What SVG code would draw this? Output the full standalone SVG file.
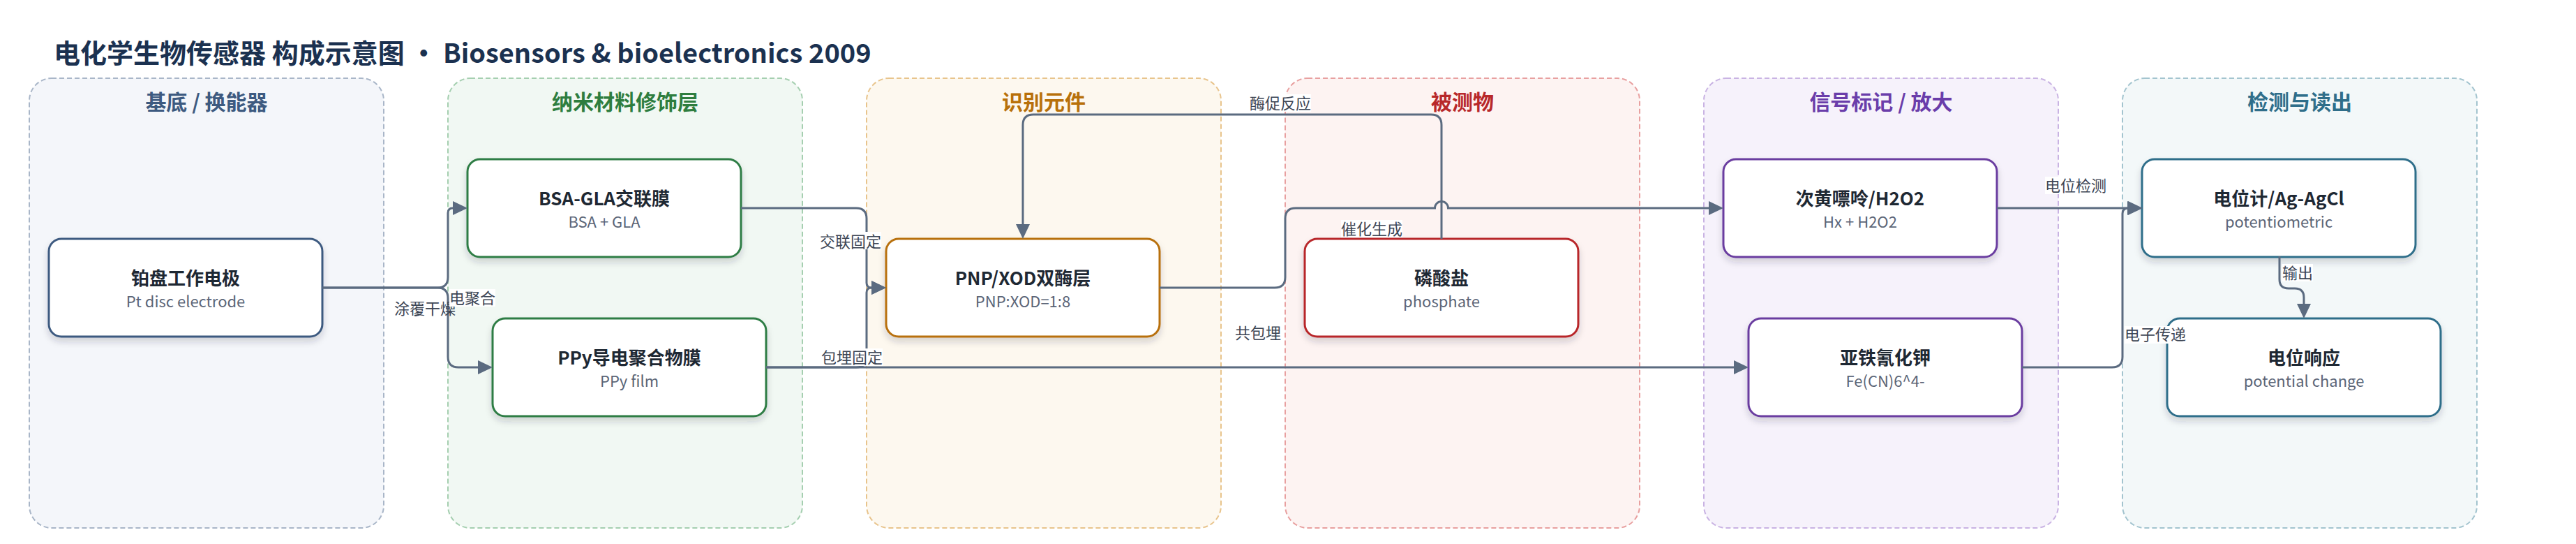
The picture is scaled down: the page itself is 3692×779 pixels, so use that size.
<svg xmlns="http://www.w3.org/2000/svg" width="3692" height="779" viewBox="0 0 3692 779">
<defs>
<filter id="sh" x="-10%" y="-20%" width="120%" height="150%">
<feDropShadow dx="0" dy="6" stdDeviation="5" flood-color="#1e2a3a" flood-opacity="0.18"/>
</filter>
<marker id="ah" viewBox="0 0 21 20" refX="0" refY="10" markerWidth="21" markerHeight="20" markerUnits="userSpaceOnUse" orient="auto">
<path d="M0,0 L21,10 L0,20 z" fill="#5b6b80"/>
</marker>
<style>
text{font-family:"Noto Sans CJK SC","Noto Sans",sans-serif;}
.title{font-size:38px;font-weight:700;fill:#1b3150;}
.lane{stroke-width:2;stroke-dasharray:7 4;}
.lt{font-size:30px;font-weight:700;text-anchor:middle;}
.node{fill:#ffffff;stroke-width:3;filter:url(#sh);}
.nt{font-size:26px;font-weight:700;fill:#1e2833;text-anchor:middle;}
.ns{font-size:22px;fill:#5b6577;text-anchor:middle;}
.edge{fill:none;stroke:#5b6b80;stroke-width:3;}
.arr{marker-end:url(#ah);}
.lbl{font-size:22px;fill:#3d4655;text-anchor:middle;}
.lbg{fill:#ffffff;}
</style>
</defs>
<rect x="0" y="0" width="3692" height="779" fill="#ffffff"/>
<text class="title" x="77" y="90">电化学生物传感器 构成示意图 · Biosensors &amp; bioelectronics 2009</text>

<g id="lanes">
<g id="lane-substrate">
<rect class="lane" x="42" y="112" width="508" height="644" rx="32" fill="#f4f6fa" stroke="#a9b6c8"/>
<text class="lt" x="296" y="157" fill="#3d5a80">基底 / 换能器</text>
</g>
<g id="lane-nano">
<rect class="lane" x="642" y="112" width="508" height="644" rx="32" fill="#f1f8f3" stroke="#a5cfb0"/>
<text class="lt" x="896" y="157" fill="#2e7d3e">纳米材料修饰层</text>
</g>
<g id="lane-recog">
<rect class="lane" x="1242" y="112" width="508" height="644" rx="32" fill="#fdf8ef" stroke="#e8c48c"/>
<text class="lt" x="1496" y="157" fill="#b8700a">识别元件</text>
</g>
<g id="lane-analyte">
<rect class="lane" x="1842" y="112" width="508" height="644" rx="32" fill="#fdf3f2" stroke="#e8a0a0"/>
<text class="lt" x="2096" y="157" fill="#b8282a">被测物</text>
</g>
<g id="lane-signal">
<rect class="lane" x="2442" y="112" width="508" height="644" rx="32" fill="#f6f2fb" stroke="#c9b3e3"/>
<text class="lt" x="2696" y="157" fill="#6a3daa">信号标记 / 放大</text>
</g>
<g id="lane-detect">
<rect class="lane" x="3042" y="112" width="508" height="644" rx="32" fill="#f3f8f9" stroke="#a3c4cf"/>
<text class="lt" x="3296" y="157" fill="#2f6e8a">检测与读出</text>
</g>
</g>

<g id="node-pt">
<rect class="node" x="70" y="342" width="392" height="140" rx="18" stroke="#3d5a80"/>
<text class="nt" x="266" y="408">铂盘工作电极</text>
<text class="ns" x="266" y="440">Pt disc electrode</text>
</g>
<g id="node-bsa">
<rect class="node" x="670" y="228" width="392" height="140" rx="18" stroke="#2e7d44"/>
<text class="nt" x="866" y="294">BSA-GLA交联膜</text>
<text class="ns" x="866" y="326">BSA + GLA</text>
</g>
<g id="node-ppy">
<rect class="node" x="706" y="456" width="392" height="140" rx="18" stroke="#2e7d44"/>
<text class="nt" x="902" y="522">PPy导电聚合物膜</text>
<text class="ns" x="902" y="554">PPy film</text>
</g>
<g id="node-pnp">
<rect class="node" x="1270" y="342" width="392" height="140" rx="18" stroke="#b8700a"/>
<text class="nt" x="1466" y="408">PNP/XOD双酶层</text>
<text class="ns" x="1466" y="440">PNP:XOD=1:8</text>
</g>
<g id="node-phosphate">
<rect class="node" x="1870" y="342" width="392" height="140" rx="18" stroke="#b8282a"/>
<text class="nt" x="2066" y="408">磷酸盐</text>
<text class="ns" x="2066" y="440">phosphate</text>
</g>
<g id="node-hx">
<rect class="node" x="2470" y="228" width="392" height="140" rx="18" stroke="#6a3da0"/>
<text class="nt" x="2666" y="294">次黄嘌呤/H2O2</text>
<text class="ns" x="2666" y="326">Hx + H2O2</text>
</g>
<g id="node-fecn">
<rect class="node" x="2506" y="456" width="392" height="140" rx="18" stroke="#6a3da0"/>
<text class="nt" x="2702" y="522">亚铁氰化钾</text>
<text class="ns" x="2702" y="554">Fe(CN)6^4-</text>
</g>
<g id="node-meter">
<rect class="node" x="3070" y="228" width="392" height="140" rx="18" stroke="#2f6e8a"/>
<text class="nt" x="3266" y="294">电位计/Ag-AgCl</text>
<text class="ns" x="3266" y="326">potentiometric</text>
</g>
<g id="node-response">
<rect class="node" x="3106" y="456" width="392" height="140" rx="18" stroke="#2f6e8a"/>
<text class="nt" x="3302" y="522">电位响应</text>
<text class="ns" x="3302" y="554">potential change</text>
</g>

<g id="connectors">
<path class="edge arr" d="M462,412 H627 Q642,412 642,397 V305 Q642,298 649,298"/>
<path class="edge arr" d="M462,412 H627 Q642,412 642,427 V511 Q642,526 657,526 H685"/>
<path class="edge arr" d="M1062,298 H1227 Q1242,298 1242,313 V405 Q1242,412 1249,412"/>
<path class="edge arr" d="M1098,526 H1227 Q1242,526 1242,511 V419 Q1242,412 1249,412"/>
<path class="edge arr" d="M1098,526 H2485"/>
<path class="edge arr" d="M2066,342 V179 Q2066,164 2051,164 H1481 Q1466,164 1466,179 V321"/>
<path class="edge arr" d="M1662,412 H1827 Q1842,412 1842,397 V313 Q1842,298 1857,298 H2056.5 A9.5,9.5 0 0 1 2075.5,298 H2449"/>
<path class="edge arr" d="M2862,298 H3049"/>
<path class="edge arr" d="M2898,526 H3027 Q3042,526 3042,511 V306 Q3042,298 3050,298"/>
<path class="edge arr" d="M3267,367 V400 Q3267,413 3280,413 H3289 Q3302,413 3302,426 V435"/>
<g id="edge-labels">
<text class="lbl" x="609" y="450">涂覆干燥</text>
<rect class="lbg" x="644" y="414" width="66" height="25"/>
<text class="lbl" x="677" y="435">电聚合</text>
<rect class="lbg" x="1175" y="332" width="88" height="25"/>
<text class="lbl" x="1219" y="354">交联固定</text>
<rect class="lbg" x="1177" y="499" width="88" height="25"/>
<text class="lbl" x="1221" y="520">包埋固定</text>
<rect class="lbg" x="1791" y="135" width="88" height="25"/>
<text class="lbl" x="1835" y="156">酶促反应</text>
<rect class="lbg" x="1922" y="315" width="88" height="25"/>
<text class="lbl" x="1966" y="336">催化生成</text>
<text class="lbl" x="1803" y="485">共包埋</text>
<rect class="lbg" x="2931" y="253" width="88" height="25"/>
<text class="lbl" x="2975" y="274">电位检测</text>
<rect class="lbg" x="3045" y="467" width="88" height="25"/>
<text class="lbl" x="3089" y="487">电子传递</text>
<rect class="lbg" x="3271" y="378" width="44" height="25"/>
<text class="lbl" x="3293" y="399">输出</text>
</g>
</g>
</svg>
